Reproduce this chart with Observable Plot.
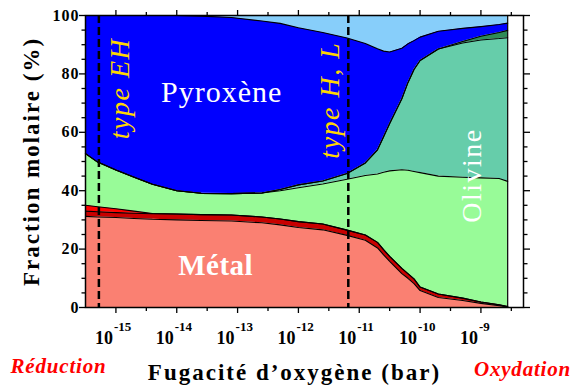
<!DOCTYPE html>
<html><head><meta charset="utf-8">
<script src="https://cdn.jsdelivr.net/npm/d3@7"></script>
<script src="https://cdn.jsdelivr.net/npm/@observablehq/plot@0.6"></script>
<style>body{margin:0;background:#fff} svg{display:block} svg text{font-family:"Liberation Serif",serif}</style>
</head><body><div id="chart"></div>
<script>
// log10 of oxygen fugacity (bar)
const logfO2 = [-15.5, -15.3, -15.0, -14.7, -14.4, -14.0, -13.6, -13.1, -12.6, -12.3, -12.0, -11.6, -11.2, -10.9, -10.7, -10.6, -10.5, -10.3, -10.2, -10.1, -10.0, -9.7, -9.3, -9.0, -8.7, -8.56];
// cumulative boundaries (%), bottom to top
const metalTop     = [31.2, 31.0, 30.8, 30.5, 30.2, 30.0, 29.8, 29.6, 29.0, 28.3, 27.4, 26.6, 24.7, 23.0, 20.4, 18.0, 15.8, 11.6, 10.0, 8.2, 5.8, 3.4, 2.4, 1.4, 0.6, 0.2];
const darkRedTop   = [33.0, 32.8, 32.5, 32.3, 32.1, 32.0, 31.8, 31.7, 31.0, 30.3, 29.4, 28.6, 26.5, 24.8, 22.3, 19.8, 17.5, 13.4, 11.6, 9.8, 7.0, 4.6, 3.2, 1.9, 0.9, 0.3];
const redTop       = [35.0, 34.5, 33.8, 33.0, 32.2, 32.0, 31.8, 31.7, 31.0, 30.3, 29.4, 28.6, 26.5, 24.8, 22.3, 19.8, 17.5, 13.4, 11.6, 9.8, 7.0, 4.6, 3.2, 1.9, 0.9, 0.3];
const paleGreenTop = [52.7, 49.8, 47.1, 44.6, 42.2, 40.0, 39.1, 39.0, 39.2, 40.0, 41.0, 42.3, 43.9, 45.2, 45.7, 46.3, 46.8, 47.2, 47.0, 46.6, 46.2, 45.0, 44.6, 44.4, 44.2, 43.2];
const olivineTop   = [52.7, 49.8, 47.1, 44.6, 42.2, 40.0, 39.1, 39.0, 39.2, 40.4, 42.0, 43.3, 45.9, 49.5, 54.0, 58.5, 63.0, 71.5, 77.0, 81.5, 84.6, 88.5, 90.6, 91.6, 92.1, 92.4];
const darkGreenTop = [52.7, 49.8, 47.1, 44.6, 42.2, 40.0, 39.1, 39.0, 39.2, 40.4, 42.0, 43.3, 45.9, 49.5, 54.0, 58.5, 63.0, 71.5, 77.0, 81.5, 84.6, 88.5, 91.1, 92.9, 94.2, 94.9];
const pyroxeneTop  = [100, 100, 100, 100, 100, 100, 99.8, 99.3, 98.1, 97.3, 95.8, 94.2, 92.3, 90.4, 88.6, 87.8, 87.5, 88.8, 90.3, 91.4, 92.6, 94.6, 95.6, 96.2, 96.9, 97.4];

const xMajor = [-15, -14, -13, -12, -11, -10, -9];
const xMinor = [-14.5, -13.5, -12.5, -11.5, -10.5, -9.5, -8.5];
const yMajor = [0, 20, 40, 60, 80, 100];
const yMinor = [5, 10, 15, 25, 30, 35, 45, 50, 55, 65, 70, 75, 85, 90, 95];
const meteoriteTypes = ["type EH", "type H, L"];
const meteoriteLogfO2 = [-15.28, -11.18];

const rows = logfO2.map((x, i) => ({
  x, metalTop: metalTop[i], darkRedTop: darkRedTop[i], redTop: redTop[i],
  paleGreenTop: paleGreenTop[i], olivineTop: olivineTop[i],
  darkGreenTop: darkGreenTop[i], pyroxeneTop: pyroxeneTop[i]
}));

const layers = [
  [0, "metalTop", "#FA8072"],
  ["metalTop", "darkRedTop", "#C80000"],
  ["darkRedTop", "redTop", "#FF0000"],
  ["redTop", "paleGreenTop", "#98FB98"],
  ["paleGreenTop", "olivineTop", "#66CDAA"],
  ["olivineTop", "darkGreenTop", "#2E8B57"],
  ["darkGreenTop", "pyroxeneTop", "#0000FF"],
  ["pyroxeneTop", 100, "#87CEFA"]
];
const boundaries = ["metalTop", "darkRedTop", "redTop", "paleGreenTop", "olivineTop", "darkGreenTop", "pyroxeneTop"];

const serif = "Liberation Serif";
const tickOpts = (anchor, size) => ({anchor, tickSize: size, tickFormat: () => "", label: null, stroke: "black", strokeWidth: 1.3});
const T = (o) => ({fontFamily: serif, textAnchor: "middle", lineAnchor: "middle", ...o});

const chart = Plot.plot({
  width: 574, height: 392,
  marginLeft: 85, marginRight: 51, marginTop: 15, marginBottom: 85,
  x: {domain: [-15.5, -8.3], axis: null, label: null},
  y: {domain: [0, 100], axis: null, label: null},
  style: {fontFamily: serif, background: "#fff", overflow: "visible", color: "black"},
  marks: [
    ...layers.map(([y1, y2, fill]) => Plot.areaY(rows, {x: "x", y1, y2, fill})),
    ...boundaries.map(b => Plot.line(rows, {x: "x", y: b, stroke: "black", strokeWidth: 1.1})),
    Plot.ruleX([logfO2[logfO2.length - 1]], {y1: 0, y2: 100, stroke: "black", strokeWidth: 1.2}),
    Plot.ruleX(meteoriteLogfO2, {stroke: "black", strokeWidth: 2.5, strokeDasharray: "8,4"}),
    Plot.text(meteoriteTypes, T({x: [-14.93, -11.48], y: [75, 71], text: d => d, rotate: -90, fill: "#FFD700", fontStyle: "italic", fontSize: 28})),
    Plot.text(["Pyroxène"], T({x: [-13.26], y: [73.5], text: d => d, fill: "white", fontSize: 30})),
    Plot.text(["Métal"], T({x: [-13.36], y: [14.4], text: d => d, fill: "white", fontSize: 29, fontWeight: "bold"})),
    Plot.text(["Olivine"], T({x: [-9.15], y: [45.2], text: d => d, fill: "white", fontSize: 28, rotate: -90})),
    Plot.frame({stroke: "black", strokeWidth: 1.5}),
    Plot.axisX(xMajor, tickOpts("bottom", 6)),
    Plot.axisX(xMinor, tickOpts("bottom", 4)),
    Plot.axisX(xMajor, tickOpts("top", 6)),
    Plot.axisX(xMinor, tickOpts("top", 4)),
    Plot.axisY(yMajor, tickOpts("left", 6)),
    Plot.axisY(yMinor, tickOpts("left", 3.5)),
    Plot.axisY(yMajor, tickOpts("right", 6)),
    Plot.axisY(yMinor, tickOpts("right", 3.5)),
    Plot.text(yMajor, T({y: d => d, frameAnchor: "left", dx: -6, textAnchor: "end", text: d => String(d), fontSize: 16, fontWeight: "bold"})),
    Plot.text(xMajor, T({x: d => d, frameAnchor: "bottom", dy: 31, dx: -3, textAnchor: "end", text: () => "10", fontSize: 18, fontWeight: "bold"})),
    Plot.text(xMajor, T({x: d => d, frameAnchor: "bottom", dy: 19, dx: -2, textAnchor: "start", text: d => String(d), fontSize: 13, fontWeight: "bold"})),
    Plot.text(["Fraction molaire (%)"], T({frameAnchor: "left", dx: -54, rotate: -90, text: d => d, fontSize: 23, fontWeight: "bold"})),
    Plot.text(["Fugacité d’oxygène (bar)"], T({frameAnchor: "bottom", dx: -10, dy: 65, text: d => d, fontSize: 23, fontWeight: "bold"})),
    Plot.text(["Réduction"], T({frameAnchor: "bottom-left", dx: -27, dy: 59, text: d => d, fontSize: 21, fontWeight: "bold", fontStyle: "italic", fill: "#FF0000"})),
    Plot.text(["Oxydation"], T({frameAnchor: "bottom-right", dx: -1, dy: 62, text: d => d, fontSize: 21, fontWeight: "bold", fontStyle: "italic", fill: "#FF0000"}))
  ]
});

const spacing = {
  "Fraction molaire (%)": "2px", "Fugacité d’oxygène (bar)": "2px",
  "Réduction": "0.8px", "Oxydation": "0.8px",
  "type EH": "1.5px", "type H, L": "1.5px",
  "Pyroxène": "1px", "Métal": "0.5px", "Olivine": "1.5px"
};
yMajor.forEach(v => spacing[String(v)] = "1px");

chart.querySelectorAll("text").forEach(t => {
  const s = t.textContent;
  if (spacing[s]) t.setAttribute("letter-spacing", spacing[s]);
});

document.getElementById("chart").appendChild(chart);
</script>
</body></html>
